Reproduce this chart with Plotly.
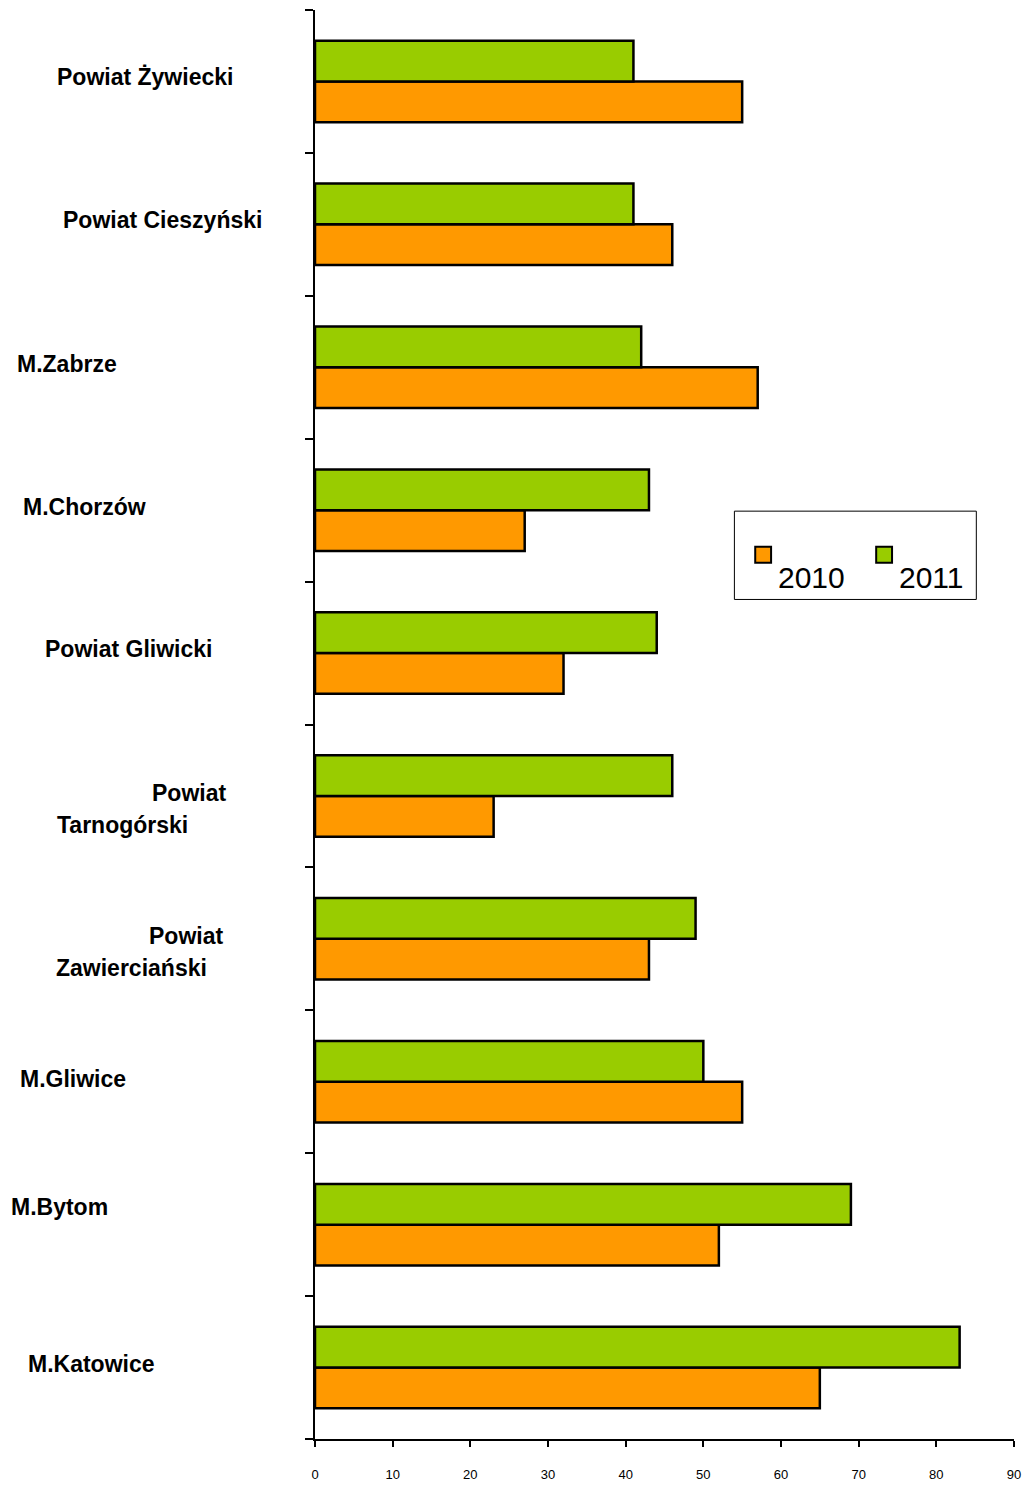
import plotly.graph_objects as go

# ---- data ----
categories = [
    "M.Katowice", "M.Bytom", "M.Gliwice", "Powiat Zawierciański",
    "Powiat Tarnogórski", "Powiat Gliwicki", "M.Chorzów", "M.Zabrze",
    "Powiat Cieszyński", "Powiat Żywiecki",
]
values_2010 = [65, 52, 55, 43, 23, 32, 27, 57, 46, 55]
values_2011 = [83, 69, 50, 49, 46, 44, 43, 42, 41, 41]
series_names = ["2010", "2011"]
x_ticks = [0, 10, 20, 30, 40, 50, 60, 70, 80, 90]

# ---- label layout (lines of each category label, pixel positions) ----
label_lines = [
    ["M.Katowice"], ["M.Bytom"], ["M.Gliwice"], ["Powiat", "Zawierciański"],
    ["Powiat", "Tarnogórski"], ["Powiat Gliwicki"], ["M.Chorzów"], ["M.Zabrze"],
    ["Powiat Cieszyński"], ["Powiat Żywiecki"],
]
label_left_px = [[27], [9], [18], [149, 55], [152, 56], [44], [21], [15], [62], [56]]
label_y_px = [[1374], [1216], [1087], [943, 975], [799, 831], [654], [511], [367], [222], [78]]

W, H = 1031, 1492
ML, MR, MT, MB = 315, 11, 10, 42
PW, PH = W - ML - MR, H - MT - MB

def px_x(px):
    return (px - ML) / PW

def px_y(py):
    return 1 - (py - MT) / PH

FONT = "Liberation Sans, Arial, sans-serif"
ORANGE = "#FF9900"
GREEN = "#99CC00"

fig = go.Figure()
fig.add_trace(go.Bar(
    y=categories, x=values_2010, name=series_names[0], orientation="h",
    marker=dict(color=ORANGE, line=dict(color="black", width=2.5)),
))
fig.add_trace(go.Bar(
    y=categories, x=values_2011, name=series_names[1], orientation="h",
    marker=dict(color=GREEN, line=dict(color="black", width=2.5)),
))

annotations = []
for lines, lefts, ys in zip(label_lines, label_left_px, label_y_px):
    for t, lx, ly in zip(lines, lefts, ys):
        annotations.append(dict(
            text=t, x=px_x(lx), y=px_y(ly), xref="paper", yref="paper",
            xanchor="left", yanchor="middle", showarrow=False, xshift=-3,
            font=dict(family=FONT, size=23, color="black", weight="bold"),
        ))

# manual legend
shapes = [dict(type="rect", xref="paper", yref="paper",
               x0=px_x(738), x1=px_x(982), y0=px_y(604), y1=px_y(515),
               line=dict(color="black", width=1), fillcolor="white")]
legend_items = [(759, ORANGE, series_names[0]), (881, GREEN, series_names[1])]
for sx, col, name in legend_items:
    shapes.append(dict(type="rect", xref="paper", yref="paper",
                       x0=px_x(sx), x1=px_x(sx + 16), y0=px_y(567), y1=px_y(551),
                       line=dict(color="black", width=2), fillcolor=col))
    annotations.append(dict(
        text=name, x=px_x(sx + 21), y=px_y(582), xref="paper", yref="paper",
        xanchor="left", yanchor="middle", showarrow=False,
        font=dict(family=FONT, size=30, color="black"),
    ))

fig.update_layout(
    width=W, height=H,
    margin=dict(l=ML, r=MR, t=MT, b=MB, pad=0),
    paper_bgcolor="white", plot_bgcolor="white",
    barmode="group", bargap=0.43, bargroupgap=0,
    showlegend=False,
    annotations=annotations, shapes=shapes,
    font=dict(family=FONT, color="black"),
)
fig.update_xaxes(
    range=[0, 90], tickvals=x_ticks, showgrid=False, zeroline=False,
    showline=True, linecolor="black", linewidth=1.5,
    ticks="outside", ticklen=6, tickcolor="black", tickwidth=2,
    tickfont=dict(family=FONT, size=13, color="black"),
    ticklabelstandoff=17,
)
fig.update_yaxes(
    type="category", categoryorder="array", categoryarray=categories,
    range=[-0.5, len(categories) - 0.5],
    showgrid=False, zeroline=False, showticklabels=False,
    showline=True, linecolor="black", linewidth=1.5,
    ticks="outside", ticklen=8, tickcolor="black", tickwidth=2,
    tickson="boundaries",
)

fig.write_html("out.html", config={"displayModeBar": False},
               post_script="document.body.style.margin='0';")
